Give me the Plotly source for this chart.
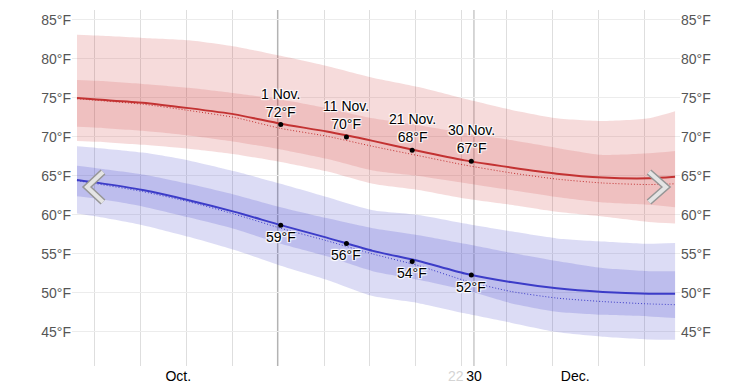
import plotly.graph_objects as go

# day index counted from 1 October (0) to 31 December (91)
days = [0, 3, 10, 17, 24, 31, 38, 45, 52, 59, 66, 73, 80, 87, 91]

hi_mean = [75.0, 74.8, 74.4, 73.7, 72.9, 71.7, 70.7, 69.5, 68.2, 67.0, 66.1, 65.3, 64.8, 64.7, 64.9]
hi_dotted = [74.9, 74.7, 74.2, 73.4, 72.5, 71.1, 70.1, 68.8, 67.6, 66.4, 65.4, 64.6, 64.1, 63.9, 64.0]
hi_p25 = [71.3, 71.2, 70.8, 70.2, 69.4, 68.4, 67.2, 65.7, 65.0, 64.1, 63.2, 62.3, 61.6, 61.3, 61.0]
hi_p75 = [77.3, 77.2, 76.8, 76.3, 75.6, 74.8, 73.7, 72.4, 71.5, 70.5, 69.6, 68.6, 67.7, 67.9, 68.2]
hi_p10 = [69.5, 69.4, 69.0, 68.5, 67.8, 66.8, 65.6, 64.0, 63.2, 62.1, 61.3, 60.4, 59.8, 59.1, 58.9]
hi_p90 = [83.1, 83.0, 82.7, 82.4, 81.6, 80.4, 79.1, 77.6, 76.4, 74.9, 73.5, 72.4, 72.05, 72.4, 73.3]

lo_mean = [64.5, 64.15, 63.2, 61.9, 60.4, 58.7, 57.1, 55.4, 54.1, 52.5, 51.4, 50.6, 50.13, 49.9, 49.9]
lo_dotted = [64.4, 64.0, 63.0, 61.7, 60.1, 58.3, 56.7, 55.0, 53.5, 51.6, 50.2, 49.35, 48.9, 48.6, 48.5]
lo_p25 = [62.4, 62.1, 61.1, 59.7, 58.2, 56.3, 54.7, 52.8, 51.7, 50.4, 48.7, 47.6, 47.2, 47.0, 46.8]
lo_p75 = [66.3, 66.0, 65.2, 64.0, 62.6, 61.0, 59.6, 58.3, 57.4, 56.3, 55.15, 54.1, 53.2, 52.8, 52.8]
lo_p10 = [60.2, 59.8, 58.7, 57.2, 55.5, 53.5, 51.7, 49.6, 48.7, 47.4, 46.2, 45.0, 44.4, 44.05, 44.0]
lo_p90 = [68.8, 68.6, 68.0, 67.0, 65.6, 64.0, 62.3, 60.6, 60.0, 58.9, 57.9, 57.0, 56.6, 56.3, 56.4]

ann_days = [31, 41, 51, 60]
ann_dates = ["1 Nov.", "11 Nov.", "21 Nov.", "30 Nov."]
ann_hi = [71.6, 70.0, 68.3, 66.9]
ann_lo = [58.7, 56.35, 54.05, 52.3]

week_lines = [2.7, 9.7, 16.6, 23.6, 30.6, 37.6, 44.5, 51.5, 58.5, 65.4, 72.4, 79.4, 86.4]
month_lines = [30.5, 60.4]
x_tick_vals = [15.4, 60.4, 75.8]
x_tick_text = ["Oct.", "30", "Dec."]
y_ticks = [45, 50, 55, 60, 65, 70, 75, 80, 85]
y_tick_text = [f"{v}°F" for v in y_ticks]

X_RANGE = [-0.76, 91.75]
Y_RANGE = [40.64, 86.28]

RED_LINE = "rgb(195,50,50)"
BLUE_LINE = "rgb(60,60,200)"
RED_OUT = "rgba(200,40,40,0.17)"
RED_IN = "rgba(200,40,40,0.15)"
BLUE_OUT = "rgba(60,60,200,0.18)"
BLUE_IN = "rgba(60,60,200,0.19)"

fig = go.Figure()


def band(lower, upper, color):
    fig.add_trace(go.Scatter(x=days, y=lower, mode="lines", line=dict(width=0, shape="spline", smoothing=0.6),
                             hoverinfo="skip", showlegend=False))
    fig.add_trace(go.Scatter(x=days, y=upper, mode="lines", line=dict(width=0, shape="spline", smoothing=0.6),
                             fill="tonexty", fillcolor=color, hoverinfo="skip", showlegend=False))


band(hi_p10, hi_p90, RED_OUT)
band(hi_p25, hi_p75, RED_IN)
band(lo_p10, lo_p90, BLUE_OUT)
band(lo_p25, lo_p75, BLUE_IN)

for ys, col in [(hi_dotted, RED_LINE), (lo_dotted, BLUE_LINE)]:
    fig.add_trace(go.Scatter(x=days, y=ys, mode="lines",
                             line=dict(color=col, width=1, dash="1px,2px", shape="spline", smoothing=0.6),
                             hoverinfo="skip", showlegend=False))
for ys, col in [(hi_mean, RED_LINE), (lo_mean, BLUE_LINE)]:
    fig.add_trace(go.Scatter(x=days, y=ys, mode="lines",
                             line=dict(color=col, width=2, shape="spline", smoothing=0.6),
                             hoverinfo="skip", showlegend=False))

fig.add_trace(go.Scatter(x=ann_days + ann_days, y=ann_hi + ann_lo, mode="markers",
                         marker=dict(color="black", size=5), hoverinfo="skip", showlegend=False))

# invisible trace to activate right axis
fig.add_trace(go.Scatter(x=[days[0]], y=[hi_mean[0]], yaxis="y2", mode="markers",
                         marker=dict(opacity=0), hoverinfo="skip", showlegend=False))

shadow = "1px 1px 1px white, -1px -1px 1px white, 1px -1px 1px white, -1px 1px 1px white, 0 0 2px white"
FONT = "Liberation Sans, Arial, Helvetica"
annotations = []
for d, lab, h, l in zip(ann_days, ann_dates, ann_hi, ann_lo):
    annotations.append(dict(x=d, y=h, text=f"{lab}<br>{round(h)}°F", showarrow=False,
                            xanchor="center", yanchor="bottom", yshift=3,
                            font=dict(size=14, color="black", family=FONT, shadow=shadow)))
    annotations.append(dict(x=d, y=l, text=f"{round(l)}°F", showarrow=False,
                            xanchor="center", yanchor="top", yshift=-2,
                            font=dict(size=14, color="black", family=FONT, shadow=shadow)))
annotations.append(dict(x=57.7, y=-0.028, xref="x", yref="paper", text="22", showarrow=False,
                        xanchor="center", yanchor="middle",
                        font=dict(size=14, color="rgb(212,212,212)", family=FONT)))

shapes = []
for m in month_lines:
    shapes.append(dict(type="line", x0=m, x1=m, xref="x", yref="paper", y0=0, y1=1,
                       line=dict(color="rgb(175,175,175)", width=1), layer="below"))

# navigation chevrons (pixel positions converted to paper coordinates)
PL, PW, PT, PH = 72, 608, 10, 356


def px(xp):
    return (xp - PL) / PW


def py(yp):
    return 1 - (yp - PT) / PH


for pts in [[(103, 172), (87, 187), (103, 202)], [(649, 172), (666, 187), (649, 202)]]:
    path = "M {} {} L {} {} L {} {}".format(px(pts[0][0]), py(pts[0][1]), px(pts[1][0]), py(pts[1][1]),
                                            px(pts[2][0]), py(pts[2][1]))
    shapes.append(dict(type="path", path=path, xref="paper", yref="paper",
                       line=dict(color="rgb(150,150,150)", width=7), layer="above"))
    shapes.append(dict(type="path", path=path, xref="paper", yref="paper",
                       line=dict(color="rgb(228,228,228)", width=4), layer="above"))

fig.update_layout(
    width=753, height=387,
    margin=dict(l=72, r=73, t=10, b=21, pad=0, autoexpand=False),
    paper_bgcolor="white", plot_bgcolor="white",
    font=dict(family=FONT, size=14),
    xaxis=dict(range=X_RANGE, tickmode="array", tickvals=x_tick_vals, ticktext=x_tick_text,
               showgrid=False, zeroline=False, ticks="", showline=False, automargin=False,
               tickfont=dict(size=14, color="black"),
               minor=dict(tickmode="array", tickvals=week_lines, showgrid=True,
                          gridcolor="rgb(222,222,222)", gridwidth=1, ticks="")),
    yaxis=dict(range=Y_RANGE, tickmode="array", tickvals=y_ticks, ticktext=y_tick_text,
               showgrid=True, gridcolor="rgb(236,236,236)", zeroline=False, ticks="", automargin=False,
               tickfont=dict(size=14, color="#555")),
    yaxis2=dict(range=Y_RANGE, overlaying="y", side="right", tickmode="array", tickvals=y_ticks,
                ticktext=y_tick_text, showgrid=False, zeroline=False, ticks="", automargin=False,
                tickfont=dict(size=14, color="#555")),
    annotations=annotations,
    shapes=shapes,
    showlegend=False,
)

fig.write_html("out.html",
               config={"displayModeBar": False},
               post_script="document.body.style.margin='0';document.body.style.overflow='hidden';")
